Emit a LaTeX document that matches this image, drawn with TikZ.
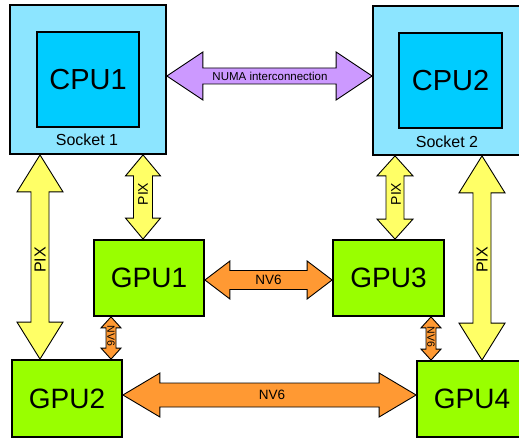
\documentclass[tikz,border=0pt]{standalone}
\usepackage{fontspec}
\setmainfont{Liberation Sans}
\usetikzlibrary{calc}
\definecolor{socketblue}{RGB}{140,229,255}
\definecolor{cpublue}{RGB}{0,204,255}
\definecolor{gpugreen}{RGB}{153,255,0}
\definecolor{pixyellow}{RGB}{255,255,102}
\definecolor{nvorange}{RGB}{255,153,51}
\definecolor{numapurple}{RGB}{204,153,255}
\newcommand\fsz[1]{\fontsize{#1}{#1}\selectfont}
\newcommand\dblarrow[6]{%
  \path let \p1=(#1), \p2=(#2) in \pgfextra{%
    \pgfmathsetmacro\tmpang{atan2(\y2-\y1,\x2-\x1)}%
    \pgfmathsetmacro\tmplen{veclen(\x2-\x1,\y2-\y1)}%
    \xdef\arrang{\tmpang}\xdef\arrlen{\tmplen}\xdef\arrx{\x1}\xdef\arry{\y1}};
  \begin{scope}[shift={(\arrx,\arry)}, rotate=\arrang, x=1pt, y=1pt]
    \draw[arrowshape, fill=#6] (0,0) -- (#5,#4) -- (#5,#3) -- (\arrlen-#5,#3)
      -- (\arrlen-#5,#4) -- (\arrlen,0) -- (\arrlen-#5,-#4) -- (\arrlen-#5,-#3)
      -- (#5,-#3) -- (#5,-#4) -- cycle;
  \end{scope}}
\tikzset{
  box/.style={draw=black, line width=1.8pt, rectangle, inner sep=0pt},
  socketbox/.style={box, fill=socketblue},
  cpubox/.style={box, fill=cpublue, font=\fsz{29}},
  gpubox/.style={box, fill=gpugreen, font=\fsz{28}, minimum width=110pt, minimum height=76pt},
  arrowshape/.style={draw=black, line width=0.9pt, line join=miter},
  lbl/.style={inner sep=0pt, text=black},
}
\begin{document}
\begin{tikzpicture}[x=1pt, y=-1pt]
\useasboundingbox (0,0) rectangle (519,438);
\clip (0,0) rectangle (519,438);
% sockets and CPUs
\node[socketblue!0, socketbox, minimum width=156pt, minimum height=149pt] (socket1) at (88,79.5) {};
\node[cpubox, minimum width=102pt, minimum height=95pt] (cpu1) at (88,79.5) {CPU1};
\node[lbl, font=\fsz{16}] (sock1lbl) at (87,140) {Socket 1};
\node[socketbox, minimum width=156pt, minimum height=149pt] (socket2) at (451,80.5) {};
\node[cpubox, minimum width=103pt, minimum height=95pt] (cpu2) at (450.5,80.5) {CPU2};
\node[lbl, font=\fsz{16}] (sock2lbl) at (447,142) {Socket 2};
% GPUs
\node[gpubox] (gpu1) at (149,278) {GPU1};
\node[gpubox, minimum width=111pt] (gpu3) at (388.5,278) {GPU3};
\node[gpubox, minimum height=77pt] (gpu2) at (67,398.5) {GPU2};
\node[gpubox] (gpu4) at (472,399) {GPU4};
% x / y positions for connectors
\coordinate (xpixL) at (40,0);
\coordinate (xpixl) at (143,0);
\coordinate (xpixr) at (395,0);
\coordinate (xpixR) at (482,0);
\coordinate (xnvl) at (111,0);
\coordinate (xnvr) at (431,0);
\coordinate (ynuma) at (0,76);
\coordinate (ynvm) at (0,280);
\coordinate (ynvb) at (0,395);
% NUMA
\dblarrow{socket1.east |- ynuma}{socket2.west |- ynuma}{8}{24}{36}{numapurple}
\node[lbl, font=\fsz{11.5}] (numalbl) at (270,76) {NUMA interconnection};
% PIX
\dblarrow{xpixL |- socket1.south}{xpixL |- gpu2.north}{9}{23}{37}{pixyellow}
\dblarrow{xpixl |- socket1.south}{xpixl |- gpu1.north}{9.5}{17.5}{21}{pixyellow}
\dblarrow{xpixr |- socket2.south}{xpixr |- gpu3.north}{9}{18}{20}{pixyellow}
\dblarrow{xpixR |- socket2.south}{xpixR |- gpu4.north}{9}{23}{37}{pixyellow}
\node[lbl, font=\fsz{16}, rotate=90] (pixL) at (40,260) {PIX};
\node[lbl, font=\fsz{14}, rotate=90] (pixl) at (143,194) {PIX};
\node[lbl, font=\fsz{14}, rotate=90] (pixr) at (396,194) {PIX};
\node[lbl, font=\fsz{16}, rotate=90] (pixR) at (482,260) {PIX};
% NV6
\dblarrow{gpu1.east |- ynvm}{gpu3.west |- ynvm}{9.5}{19}{25}{nvorange}
\dblarrow{gpu2.east |- ynvb}{gpu4.west |- ynvb}{12}{22}{37}{nvorange}
\dblarrow{xnvl |- gpu1.south}{xnvl |- gpu2.north}{5}{10}{11}{nvorange}
\dblarrow{xnvr |- gpu3.south}{xnvr |- gpu4.north}{5}{10}{11}{nvorange}
\node[lbl, font=\fsz{13.5}] (nvm) at (268.5,280) {NV6};
\node[lbl, font=\fsz{13.5}] (nvb) at (272,395) {NV6};
\node[lbl, font=\fsz{10.5}, rotate=-90] (nvl) at (111,336) {NV6};
\node[lbl, font=\fsz{10.5}, rotate=-90] (nvr) at (431,337) {NV6};
\end{tikzpicture}
\end{document}
